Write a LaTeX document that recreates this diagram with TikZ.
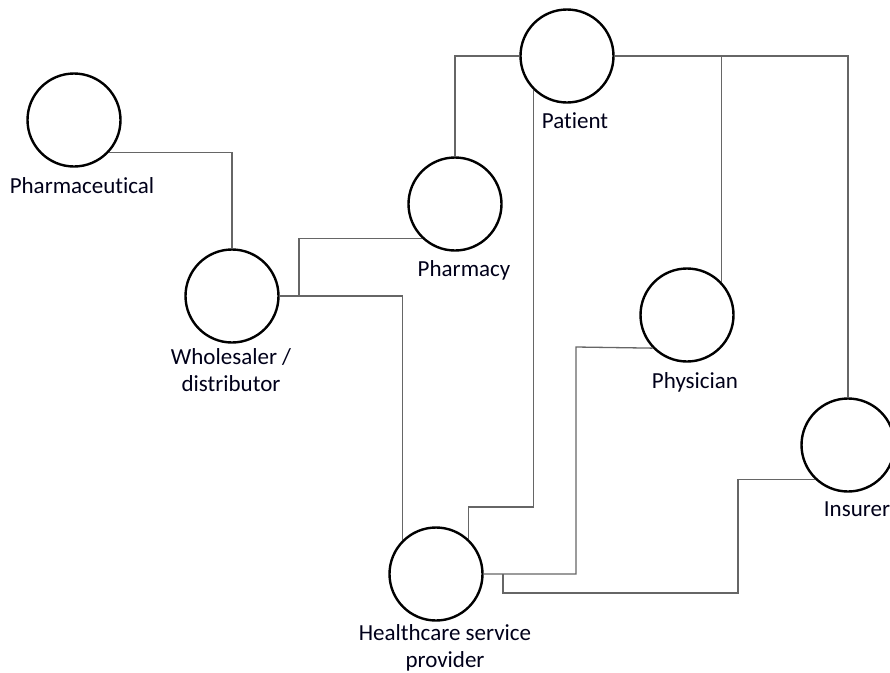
\documentclass[tikz,border=0pt]{standalone}
\usepackage{fontspec}
\setmainfont{Carlito}[Ligatures={NoCommon}]
\begin{document}
\begin{tikzpicture}[x=1pt,y=-1pt,
  actor/.style={circle,draw=black,line width=2.4pt,minimum size=93pt,inner sep=0pt},
  lbl/.style={anchor=base,inner sep=0pt,text=black!90!blue,font=\fontsize{23}{27}\selectfont},
  link/.style={draw=black!60,line width=1.3pt}]
\useasboundingbox (0,0) rectangle (890,672);
\node[actor] (pharma) at (74,120) {};
\node[actor] (whole) at (232,296) {};
\node[actor] (pharmacy) at (455,204) {};
\node[actor] (patient) at (567,56) {};
\node[actor] (physician) at (687,315) {};
\node[actor] (insurer) at (848,445) {};
\node[actor] (health) at (436,574) {};

\node[lbl] (pharmaL) at (82,193) {Pharmaceutical};
\node[lbl] (wholeL1) at (231,364) {Wholesaler /};
\node[lbl] (wholeL2) at (231,391) {distributor};
\node[lbl] (pharmacyL) at (464,276) {Pharmacy};
\node[lbl] (patientL) at (575,128) {Patient};
\node[lbl] (physicianL) at (695,388) {Physician};
\node[lbl] (insurerL) at (857,516) {Insurer};
\node[lbl] (healthL1) at (445,640) {Healthcare service};
\node[lbl] (healthL2) at (445,667) {provider};

\coordinate (wb) at (299,296);
\coordinate (c1) at (534,507);
\coordinate (c2) at (576,347);
\coordinate (hb) at (503,574);
\coordinate (c3) at (738,593);

\draw[link] (pharma.-43) -| (whole.north);
\draw[link] (whole.east) -| (health.135);
\draw[link] (wb) |- (pharmacy.-134);
\draw[link] (pharmacy.north) |- (patient.west);
\draw[link] (patient.-135) -- (patient.-135 |- c1) -| (health.47);
\draw[link] (health.east) -| (c2) -- (physician.-136);
\draw[link] (patient.east) -| (physician.44);
\draw[link] (patient.east) -| (insurer.north);
\draw[link] (hb) |- (c3) |- (insurer.-134);
\end{tikzpicture}
\end{document}
